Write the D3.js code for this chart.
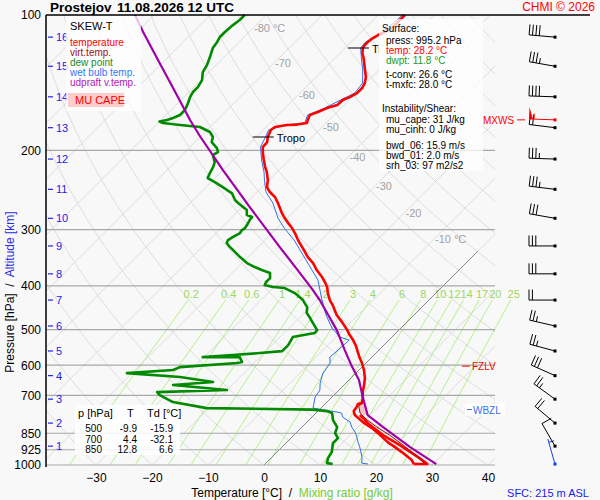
<!DOCTYPE html>
<html>
<head>
<meta charset="utf-8">
<script src="https://cdn.jsdelivr.net/npm/d3@7"></script>
<style>
	body { margin: 0; background: #f8f8f8; }
	svg { display: block; font-family: "Liberation Sans", Arial, sans-serif; }
	text { white-space: pre; }
</style>
</head>
<body>
<svg id="chart" width="600" height="500"></svg>
<script>

// sounding profiles, [pressure hPa, temperature °C]
var temperature = [[100,-55.2],[106.4,-55.2],[109.1,-55.7],[110.8,-56.4],[112.5,-56.8],[114.8,-57.0],[116.6,-57.0],[118.4,-56.8],[121.5,-56.0],[124.6,-54.9],[132.5,-52.5],[137.3,-51.1],[141.7,-50.2],[145.3,-49.8],[149.1,-49.8],[152.2,-50.4],[154.5,-51.1],[158.5,-51.2],[161,-52.5],[164.3,-53.4],[166.8,-54.3],[171.2,-53.8],[173.8,-53.4],[175.2,-54.9],[175.6,-56.6],[177.4,-58.4],[180.1,-58.6],[186.7,-57.9],[191.6,-57.1],[196.5,-57.0],[202.7,-55.9],[210,-54.5],[217.7,-53.0],[223.4,-51.8],[232.7,-50.2],[241.2,-49.1],[247.4,-47.7],[253.8,-45.9],[261.7,-44.3],[275.5,-41.8],[282.6,-40.4],[289.9,-38.9],[297.5,-37.3],[305.2,-35.9],[316.3,-34.1],[327.9,-32.1],[336.3,-30.7],[345.1,-29.3],[355.8,-27.3],[368.8,-25.4],[382.2,-23.2],[392.1,-21.8],[402.3,-20.5],[414.9,-19.3],[430,-17.7],[441.1,-16.3],[464.3,-13.8],[481.3,-11.6],[498.9,-9.5],[514.3,-7.9],[527.7,-6.4],[544.1,-4.8],[561.2,-3.4],[578.6,-2.0],[593.6,-0.7],[615.2,0.9],[641,2.5],[664.3,3.6],[688.6,4.6],[710.1,5.7],[728.5,6.4],[732.2,5.9],[743.5,6.2],[758.9,6.4],[774.6,7.3],[803,10.0],[828,12.7],[858.1,15.4],[889.4,18.0],[912.5,20.2],[936.1,22.3],[955.4,23.9],[975.2,25.5],[995.2,26.6]];

var temperatureSfc = [[995.2,26.6],[995.2,29.0],[960.4,26.1],[903.1,20.7],[858.1,15.9],[815.3,11.8],[786.7,9.3],[774.6,8.2]];

var virtTemp = [[728.5,6.6],[739.7,6.4],[766.8,7.9],[794.7,10.4],[823.7,13.4],[858.1,17.1],[903.1,21.3],[940.9,24.5],[975.2,27.3],[995.2,28.5]];

var dewPoint = [[100,-83.8],[102.6,-83.8],[105.3,-84.1],[109.1,-84.3],[111.9,-84.3],[114.8,-83.9],[118.4,-83.6],[124,-82.5],[129.2,-81.6],[133.9,-81.1],[139.5,-79.8],[144.6,-79.3],[148.3,-79.3],[152.2,-78.9],[156.9,-78.2],[162.6,-77.5],[166.8,-77.5],[169.4,-78.2],[171.2,-78.9],[172.5,-80.0],[173.8,-79.1],[175.6,-75.7],[177.4,-71.8],[182,-69.1],[186.7,-67.7],[191.6,-67.0],[197.6,-65.0],[201.6,-64.1],[204.7,-64.5],[212.2,-62.9],[217.7,-62.3],[224.5,-61.8],[230.3,-61.3],[235.1,-59.3],[241.2,-57.0],[244.9,-55.7],[248.7,-54.3],[257.7,-52.5],[261.7,-51.4],[267.2,-49.8],[271.3,-48.6],[278.3,-47.7],[281.2,-46.4],[285.5,-46.3],[292.9,-45.9],[297.5,-45.7],[300.5,-45.9],[305.2,-45.7],[311.5,-46.3],[316.3,-46.6],[321.2,-46.3],[327.9,-45.0],[332.9,-43.9],[345.1,-41.4],[355.8,-39.1],[363.2,-37.0],[368.8,-35.2],[374.5,-33.2],[384.2,-32.3],[392.1,-32.3],[398.2,-32.0],[402.3,-30.2],[404.4,-27.9],[414.9,-25.2],[430,-22.5],[445.7,-20.5],[459.6,-19.5],[471.5,-18.0],[483.7,-16.6],[501.4,-14.6],[509.1,-14.5],[519.7,-17.7],[541.3,-17.1],[558.3,-17.1],[564,-20.7],[569.8,-25.2],[575.7,-30.2],[575.7,-23.6],[590.6,-22.3],[593.6,-23.0],[605.9,-32.5],[615.2,-33.2],[624.8,-40.9],[637.7,-30.7],[654.2,-23.9],[664.3,-30.5],[681.5,-20.0],[688.6,-32.1],[699.2,-31.1],[724.7,-27.5],[747.4,-20.4],[753.1,-1.2],[758.9,1.6],[766.8,2.9],[794.7,4.3],[823.7,6.3],[849.4,7.0],[871.4,8.4],[894,8.4],[936.1,9.8],[965.3,10.2],[990.3,10.9],[995.2,12.1]];

var wetBulb = [[100,-55.6],[109.1,-56.1],[114.8,-57.4],[118.4,-57.2],[124.6,-55.3],[132.5,-52.9],[141.7,-50.6],[149.1,-50.2],[154.5,-51.5],[161,-52.9],[166.8,-54.7],[173.8,-53.8],[175.6,-57.0],[180.1,-59.0],[186.7,-58.3],[196.5,-57.4],[210,-54.9],[223.4,-52.3],[232.7,-50.8],[247.4,-48.4],[261.7,-45.2],[282.6,-41.6],[297.5,-38.7],[316.3,-34.8],[350.4,-29.1],[388.1,-23.4],[430,-19.1],[464.3,-15.7],[496.3,-12.3],[519.7,-9.3],[527.7,-7.1],[555.4,-7.3],[575.7,-7.5],[593.6,-6.4],[624.8,-5.9],[657.6,-4.6],[681.5,-3.4],[706.4,-3.0],[747.4,-1.4],[755,1.1],[762.8,3.6],[766.8,4.6],[782.6,5.5],[802.8,7.7],[823.7,8.9],[845.1,10.4],[867,11.6],[889.4,12.7],[912.5,13.9],[960.4,16.1],[990.3,17.1],[995.2,18.4]];

var updraft = [[100,-103.4],[109.1,-98.9],[124.6,-91.8],[146.8,-83.0],[171.2,-74.8],[184.8,-70.5],[221.1,-60.0],[267.2,-48.6],[327.9,-36.1],[368.8,-28.8],[408.5,-22.5],[430,-19.5],[501.4,-11.1],[555.4,-6.1],[602.8,-2.0],[647.5,1.8],[706.4,5.5],[774.6,9.6],[823.7,14.5],[912.5,22.9],[995.2,30.6]];

// axes
var pressureTicks = [100, 200, 300, 400, 500, 600, 700, 850, 925, 1000];
var tempTicks = [-30, -20, -10, 0, 10, 20, 30, 40];
var altitudeKm = [1, 2, 3, 4, 5, 6, 7, 8, 9, 10, 11, 12, 13, 14, 15, 16];
var altitudeP = [908, 807, 714, 633, 558, 491, 430, 376, 326, 283, 244, 209, 178, 152, 130, 112];
var isothermLabels = [-80, -70, -60, -50, -40, -30, -20, -10];
var mixingRatios = [0.2, 0.4, 0.6, 1, 1.4, 2, 3, 4, 6, 8, 10, 12, 14, 17, 20, 25];

// winds (surface + every km), direction deg, speed kt
var windP = [995.2, 908, 807, 714, 633, 558, 491, 430, 376, 326, 283, 244, 209, 178, 152, 130, 112];
var windDir = [344, 330, 310, 306, 294, 285, 283, 270, 270, 270, 280, 277, 272, 277, 272, 280, 275];
var windSpd = [5, 10, 20, 25, 30, 25, 25, 20, 30, 30, 30, 35, 35, 20, 40, 35, 40];
var maxWindP = 171, maxWindDir = 272, maxWindSpd = 55;

var tropoP = [186.7, 118.4];
var fzlvP = 603, wbzlP = 753;

var tableP = [500, 700, 850];
var tableT = [-9.9, 4.4, 12.8];
var tableTd = [-15.9, -32.1, 6.6];


var svg = d3.select('#chart'),
	plot = {left: 46, right: 495, top: 15, bottom: 465},
	infoBox = {x: 379, y: 19, w: 104, h: 152},
	skew = 1.0;

var y = d3.scaleLog().domain([100, 1000]).range([plot.top, plot.bottom]);
var xT = d3.scaleLinear().domain([-30, 40]).range([96, 488]);

function X(T, p) { return xT(T) + (plot.bottom - y(p)) * skew; }

var line = d3.line()
	.x(function(d){ return X(d[1], d[0]); })
	.y(function(d){ return y(d[0]); });

svg.append('rect').attr('width', 600).attr('height', 500).attr('fill', '#f8f8f8');

var defs = svg.append('defs');
defs.append('clipPath').attr('id', 'plotClip')
	.append('rect')
	.attr('x', plot.left).attr('y', plot.top)
	.attr('width', plot.right - plot.left).attr('height', plot.bottom - plot.top);
defs.append('clipPath').attr('id', 'boxClip')
	.append('rect')
	.attr('x', 0).attr('y', 0).attr('width', infoBox.x).attr('height', 500);

var grid = svg.append('g').attr('clip-path', 'url(#plotClip)');

// isotherms
grid.selectAll('line.iso').data(d3.range(-170, 60, 10))
	.enter().append('line')
	.attr('x1', function(t){ return X(t, 1000); }).attr('y1', y(1000))
	.attr('x2', function(t){ return X(t, 100); }).attr('y2', y(100))
	.attr('stroke', '#d6d6d6').attr('stroke-width', 0.8);

// dry adiabats
var adiP = d3.range(0, 61).map(function(i){ return 1000 * Math.pow(0.1, i / 60); });
grid.selectAll('path.dry').data(d3.range(-40, 230, 10))
	.enter().append('path')
	.attr('d', function(th){
		return line(adiP.map(function(p){ return [p, (th + 273.15) * Math.pow(p / 1000, 0.2857) - 273.15]; }));
	})
	.attr('fill', 'none').attr('stroke', '#d6d6d6').attr('stroke-width', 0.8);

// mixing ratio lines
function dewFromMix(w, p) {
	var e = w * p / (622 + w), l = Math.log(e / 6.112);
	return 243.5 * l / (17.67 - l);
}
var mixTop = 430;
var mixP = d3.range(0, 21).map(function(i){ return 1000 * Math.pow(mixTop / 1000, i / 20); });
svg.selectAll('path.mix').data(mixingRatios)
	.enter().append('path')
	.attr('d', function(w){ return line(mixP.map(function(p){ return [p, dewFromMix(w, p)]; })); })
	.attr('fill', 'none').attr('stroke', '#a6ee6e').attr('stroke-width', 0.8);

svg.selectAll('text.mix').data(mixingRatios)
	.enter().append('text')
	.attr('x', function(w){ return X(dewFromMix(w, mixTop), mixTop) + 3; })
	.attr('y', y(mixTop) - 2)
	.attr('text-anchor', 'middle')
	.attr('font-size', 11).attr('fill', '#9bd85c')
	.text(function(w){ return w; });

// 0 °C isotherm
svg.append('line')
	.attr('x1', X(0, 1000)).attr('y1', y(1000))
	.attr('x2', X(0, 335)).attr('y2', y(335))
	.attr('stroke', '#707070').attr('stroke-width', 0.8);

// isobars
svg.selectAll('line.isobar').data(pressureTicks.slice(1))
	.enter().append('line')
	.attr('x1', plot.left).attr('x2', plot.right)
	.attr('y1', function(p){ return y(p); }).attr('y2', function(p){ return y(p); })
	.attr('stroke', '#a8a8a8').attr('stroke-width', 1.2);

// isotherm labels
var labelY = d3.scaleLinear().domain([-80, -70, -50, -30, -10]).range([28, 63, 127, 186, 239]);
svg.selectAll('text.isoLabel').data(isothermLabels)
	.enter().append('text')
	.attr('x', function(t){ return X(t, y.invert(labelY(t))) + 1; })
	.attr('y', function(t){ return labelY(t) + 4; })
	.attr('font-size', 11).attr('fill', '#a0a0a0')
	.text(function(t){ return (t === -80 || t === -10) ? t + ' °C' : t; });

// CAPE area between updraft and virtual temperature
function interp(prof, p) {
	for (var i = 0; i < prof.length - 1; i++) {
		var a = prof[i], b = prof[i + 1];
		if (p >= a[0] && p <= b[0]) {
			var f = a[0] === b[0] ? 0 : Math.log(p / a[0]) / Math.log(b[0] / a[0]);
			return a[1] + f * (b[1] - a[1]);
		}
	}
	return prof[prof.length - 1][1];
}
var capeP = d3.range(729, 776, 3);
var capePoly = capeP.map(function(p){ return [p, interp(updraft, p)]; })
	.concat(capeP.slice().reverse().map(function(p){ return [p, interp(virtTemp, p)]; }));
svg.append('path').attr('d', line(capePoly) + 'Z').attr('fill', '#f8c4c4').attr('stroke', 'none');

// profiles
svg.append('path').attr('d', line(wetBulb)).attr('fill', 'none').attr('stroke', '#2f6fe8').attr('stroke-width', 1);
svg.append('path').attr('d', line(dewPoint)).attr('fill', 'none').attr('stroke', '#008a00').attr('stroke-width', 2.6).attr('stroke-linejoin', 'round');
svg.append('path').attr('d', line(temperature)).attr('fill', 'none').attr('stroke', '#ff0000').attr('stroke-width', 2.6).attr('stroke-linejoin', 'round');
svg.append('path').attr('d', line(temperatureSfc)).attr('fill', 'none').attr('stroke', '#ff0000').attr('stroke-width', 2.6).attr('stroke-linejoin', 'round');
svg.append('path').attr('d', line(virtTemp)).attr('fill', 'none').attr('stroke', '#9a0e0e').attr('stroke-width', 1);
svg.append('path').attr('d', line(updraft)).attr('fill', 'none').attr('stroke', '#a000a8').attr('stroke-width', 2.2);

// tropopause marks (label cut off where the surface box starts)
var tropo = svg.append('g').attr('clip-path', 'url(#boxClip)');
tropoP.forEach(function(p){
	var tx = X(interp(temperature, p), p);
	tropo.append('line').attr('x1', tx - 15).attr('x2', tx + 6).attr('y1', y(p)).attr('y2', y(p)).attr('stroke', '#000');
	tropo.append('text').attr('x', tx + 9).attr('y', y(p) + 5).attr('font-size', 11).text('Tropo');
});

// freezing / wet bulb zero levels
svg.append('line').attr('x1', 462).attr('x2', 470).attr('y1', y(fzlvP)).attr('y2', y(fzlvP)).attr('stroke', '#ff0000');
svg.append('text').attr('x', 472).attr('y', y(fzlvP) + 4).attr('font-size', 10).attr('fill', '#ff0000').text('FZLV');
svg.append('rect').attr('x', 465).attr('y', y(wbzlP) - 6).attr('width', 40).attr('height', 12).attr('fill', '#fff');
svg.append('line').attr('x1', 467).attr('x2', 472).attr('y1', y(wbzlP)).attr('y2', y(wbzlP)).attr('stroke', '#3a6ee8');
svg.append('text').attr('x', 473).attr('y', y(wbzlP) + 4).attr('font-size', 10).attr('fill', '#3a6ee8').text('WBZL');

// axes frame
svg.append('line').attr('x1', plot.left).attr('x2', 590).attr('y1', plot.top).attr('y2', plot.top).attr('stroke', '#000').attr('stroke-width', 1.5);
svg.append('line').attr('x1', plot.left).attr('x2', plot.left).attr('y1', plot.top).attr('y2', plot.bottom + 2).attr('stroke', '#000').attr('stroke-width', 1.5);

var pAxis = svg.append('g').attr('transform', 'translate(' + plot.left + ',0)')
	.call(d3.axisLeft(y).tickValues(pressureTicks).tickSize(0).tickPadding(5).tickFormat(d3.format('d')));
pAxis.select('.domain').remove();
pAxis.selectAll('text').attr('font-size', 12).attr('font-family', null).attr('fill', '#000');

var tAxis = svg.append('g').attr('transform', 'translate(0,' + plot.bottom + ')')
	.call(d3.axisBottom(xT).tickValues(tempTicks).tickSize(0).tickPadding(8));
tAxis.select('.domain').remove();
tAxis.selectAll('text').attr('font-size', 12).attr('font-family', null).attr('fill', '#000');

// altitude ticks
var alt = svg.append('g');
alt.selectAll('line').data(altitudeP).enter().append('line')
	.attr('x1', 48).attr('x2', 53)
	.attr('y1', function(p){ return y(p); }).attr('y2', function(p){ return y(p); })
	.attr('stroke', '#2222ee').attr('stroke-width', 1.2);
alt.selectAll('text').data(altitudeP).enter().append('text')
	.attr('x', 56).attr('y', function(p){ return y(p) + 4; })
	.attr('font-size', 11).attr('fill', '#2222ee')
	.text(function(p, i){ return altitudeKm[i]; });

// axis titles
var yt = svg.append('text').attr('transform', 'translate(14,292) rotate(-90)')
	.attr('text-anchor', 'middle').attr('font-size', 12);
yt.append('tspan').attr('fill', '#000').text('Pressure [hPa]  /  ');
yt.append('tspan').attr('fill', '#2a2ae8').text('Altitude [km]');

var xt = svg.append('text').attr('x', 292).attr('y', 497).attr('text-anchor', 'middle').attr('font-size', 12);
xt.append('tspan').attr('fill', '#000').text('Temperature [°C]  /  ');
xt.append('tspan').attr('fill', '#77cc33').text('Mixing ratio [g/kg]');

// wind barbs
var barbX = 555;
function drawBarb(p, dir, spd, color) {
	var g = svg.append('g'), x0 = barbX, y0 = y(p), L = 26,
		a = dir * Math.PI / 180, ux = Math.sin(a), uy = -Math.cos(a),
		nx = -uy, ny = ux,
		ex = x0 + ux * L, ey = y0 + uy * L,
		s = Math.round(spd / 5) * 5, d = 0;
	g.append('line').attr('x1', x0).attr('y1', y0).attr('x2', ex).attr('y2', ey).attr('stroke', color);
	while (s >= 50) {
		var bx = ex - ux * d, by = ey - uy * d;
		g.append('path')
			.attr('d', 'M' + bx + ',' + by + 'L' + (bx + nx * 12) + ',' + (by + ny * 12) + 'L' + (bx - ux * 4) + ',' + (by - uy * 4) + 'Z')
			.attr('fill', color);
		s -= 50; d += 5;
	}
	while (s >= 10) {
		var fx = ex - ux * d, fy = ey - uy * d;
		g.append('line').attr('x1', fx).attr('y1', fy).attr('x2', fx + nx * 10.5).attr('y2', fy + ny * 10.5).attr('stroke', color);
		s -= 10; d += 3.4;
	}
	if (s >= 5) {
		if (d === 0) d = 3.4;
		var hx = ex - ux * d, hy = ey - uy * d;
		g.append('line').attr('x1', hx).attr('y1', hy).attr('x2', hx + nx * 5.5).attr('y2', hy + ny * 5.5).attr('stroke', color);
	}
	g.append('rect').attr('x', x0 - 1.5).attr('y', y0 - 1.5).attr('width', 3).attr('height', 3).attr('fill', color);
}
windP.forEach(function(p, i){ drawBarb(p, windDir[i], windSpd[i], i === 0 ? '#1a3ee8' : '#000'); });
drawBarb(maxWindP, maxWindDir, maxWindSpd, '#ff0000');
svg.append('text').attr('x', 483).attr('y', y(maxWindP) + 4).attr('font-size', 10).attr('fill', '#ff0000').text('MXWS');
svg.append('line').attr('x1', 517).attr('x2', 525).attr('y1', y(maxWindP)).attr('y2', y(maxWindP)).attr('stroke', '#ff0000');

// legend box
var leg = svg.append('g');
leg.append('rect').attr('x', 66).attr('y', 16).attr('width', 75).attr('height', 95).attr('fill', '#fff').attr('opacity', 0.75);
leg.append('text').attr('x', 70).attr('y', 30).attr('font-size', 11).text('SKEW-T');
[['temperature', '#ff0000'], ['virt.temp.', '#a01010'], ['dew point', '#1a8c1a'], ['wet bulb temp.', '#3377ff'], ['udpraft v.temp.', '#b020b8']]
	.forEach(function(d, i){
		leg.append('text').attr('x', 70).attr('y', 46 + i * 10).attr('font-size', 10).attr('fill', d[1]).text(d[0]);
	});
leg.append('rect').attr('x', 68).attr('y', 93).attr('width', 56).attr('height', 14).attr('fill', '#ffcccc');
leg.append('text').attr('x', 75).attr('y', 104).attr('font-size', 11).attr('fill', '#ff0000').text('MU CAPE');

// surface / instability box
var info = svg.append('g');
info.append('rect').attr('x', infoBox.x).attr('y', infoBox.y).attr('width', infoBox.w).attr('height', infoBox.h).attr('fill', '#fff').attr('opacity', 0.75);
[
	['Surface:', 382, 32, '#000'],
	['press: 995.2 hPa', 386, 44, '#000'],
	['temp: 28.2 °C', 386, 54, '#ff0000'],
	['dwpt: 11.8 °C', 386, 64, '#1a9a1a'],
	['t-conv: 26.6 °C', 386, 78, '#000'],
	['t-mxfc: 28.0 °C', 386, 88, '#000'],
	['Instability/Shear:', 382, 112, '#000'],
	['mu_cape: 31 J/kg', 386, 123, '#000'],
	['mu_cinh: 0 J/kg', 386, 133, '#000'],
	['bwd_06: 15.9 m/s', 386, 149, '#000'],
	['bwd_01: 2.0 m/s', 386, 159, '#000'],
	['srh_03: 97 m2/s2', 386, 169, '#000']
].forEach(function(d){
	info.append('text').attr('x', d[1]).attr('y', d[2]).attr('font-size', 10).attr('fill', d[3]).text(d[0]);
});

// level table
var tab = svg.append('g');
tab.append('rect').attr('x', 75).attr('y', 405).attr('width', 105).attr('height', 50).attr('fill', '#fff').attr('opacity', 0.85);
tab.append('text').attr('x', 78).attr('y', 417).attr('font-size', 11).text('p [hPa]');
tab.append('text').attr('x', 127).attr('y', 417).attr('font-size', 11).text('T');
tab.append('text').attr('x', 147).attr('y', 417).attr('font-size', 11).text('Td [°C]');
tableP.forEach(function(p, i){
	var ty = 432 + i * 10.5;
	tab.append('text').attr('x', 102).attr('y', ty).attr('text-anchor', 'end').attr('font-size', 10).text(p);
	tab.append('text').attr('x', 137).attr('y', ty).attr('text-anchor', 'end').attr('font-size', 10).text(tableT[i].toFixed(1));
	tab.append('text').attr('x', 173).attr('y', ty).attr('text-anchor', 'end').attr('font-size', 10).text(tableTd[i].toFixed(1));
});

// header
svg.append('text').attr('x', 50).attr('y', 12).attr('font-size', 13.5).attr('font-weight', 'bold').text('Prostejov');
svg.append('text').attr('x', 117).attr('y', 12).attr('font-size', 13.5).attr('font-weight', 'bold').text('11.08.2026 12 UTC');
svg.append('text').attr('x', 595).attr('y', 11).attr('text-anchor', 'end').attr('font-size', 12).attr('fill', '#ff0000').text('CHMI © 2026');
svg.append('text').attr('x', 589).attr('y', 497).attr('text-anchor', 'end').attr('font-size', 11).attr('fill', '#1a1aee').text('SFC: 215 m ASL');

</script>
</body>
</html>
